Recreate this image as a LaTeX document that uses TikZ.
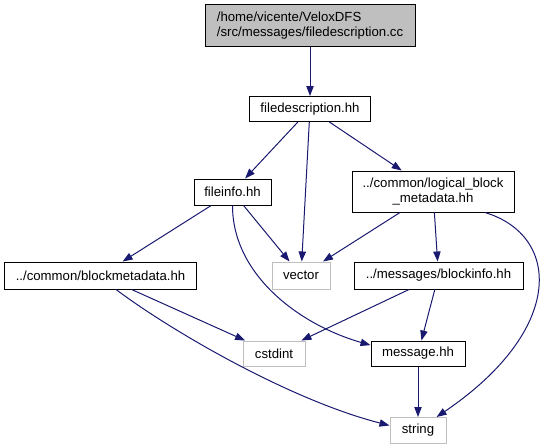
\documentclass[tikz,border=0pt]{standalone}
\usepackage{fontspec}
\setmainfont{Liberation Sans}
\usepackage{tikz}
\usetikzlibrary{arrows.meta}
\definecolor{edgeblue}{RGB}{25,25,112}
\definecolor{extgray}{RGB}{191,191,191}
\definecolor{rootfill}{RGB}{191,191,191}
\tikzset{
  file/.style={rectangle, draw=black, fill=white, line width=0.75pt,
    align=center, inner sep=2pt, minimum height=19.5pt,
    font=\fontsize{9.9}{11.6}\selectfont},
  extfile/.style={file, draw=extgray},
  rootfile/.style={file, fill=rootfill, align=left},
  dep/.style={-{Triangle[length=7.5pt,width=5.5pt]}, line width=0.75pt, color=edgeblue}
}

\begin{document}
\begin{tikzpicture}[x=0.75pt, y=-0.75pt]
  \useasboundingbox (0,0) rectangle (542,443);
  \node[rootfile, minimum width=157.5pt, minimum height=31.5pt] (root) at (310,25.5)
    {/home/vicente/VeloxDFS\\/src/messages/filedescription.cc};
  \node[file, minimum width=90.75pt, minimum height=18.75pt] (fdesc) at (310,109) {filedescription.hh};
  \node[file, minimum width=57.75pt] (finfo) at (232.5,192) {fileinfo.hh};
  \node[file, minimum width=121.5pt, minimum height=30.75pt] (logic) at (433,191.5)
    {../common/logical\_block\\\_metadata.hh};
  \node[file, minimum width=144pt, minimum height=20.25pt] (bmeta) at (100.5,275.5) {../common/blockmetadata.hh};
  \node[extfile, minimum width=43.5pt, minimum height=20.25pt] (vec) at (301,275.5) {vector};
  \node[file, minimum width=126.75pt, minimum height=20.25pt] (binfo) at (438.5,275.5) {../messages/blockinfo.hh};
  \node[extfile, minimum width=46.5pt, minimum height=18.75pt] (cstd) at (274,353.5) {cstdint};
  \node[file, minimum width=70.5pt, minimum height=18.75pt] (msg) at (418,353.5) {message.hh};
  \node[extfile, minimum width=42pt] (str) at (418,430.5) {string};

  \draw[dep] (root) -- (fdesc);
  \draw[dep] (fdesc) -- (finfo);
  \draw[dep] (fdesc) -- (vec);
  \draw[dep] (fdesc) -- (logic);
  \draw[dep] (finfo) -- (bmeta);
  \draw[dep] (finfo) -- (vec);
  \draw[dep] (finfo.south) .. controls +(0,70) and +(-70,-20) .. (msg.170);
  \draw[dep] (logic) -- (vec);
  \draw[dep] (logic) -- (binfo);
  \draw[dep] (logic.-22) .. controls +(76,23) and +(129,-87.5) .. (str.36);
  \draw[dep] (bmeta) -- (cstd);
  \draw[dep] (bmeta.-42) .. controls +(54.5,41) and +(-100,-25.6) .. (str.170);
  \draw[dep] (binfo) -- (cstd);
  \draw[dep] (binfo) -- (msg);
  \draw[dep] (msg) -- (str);
\end{tikzpicture}
\end{document}
